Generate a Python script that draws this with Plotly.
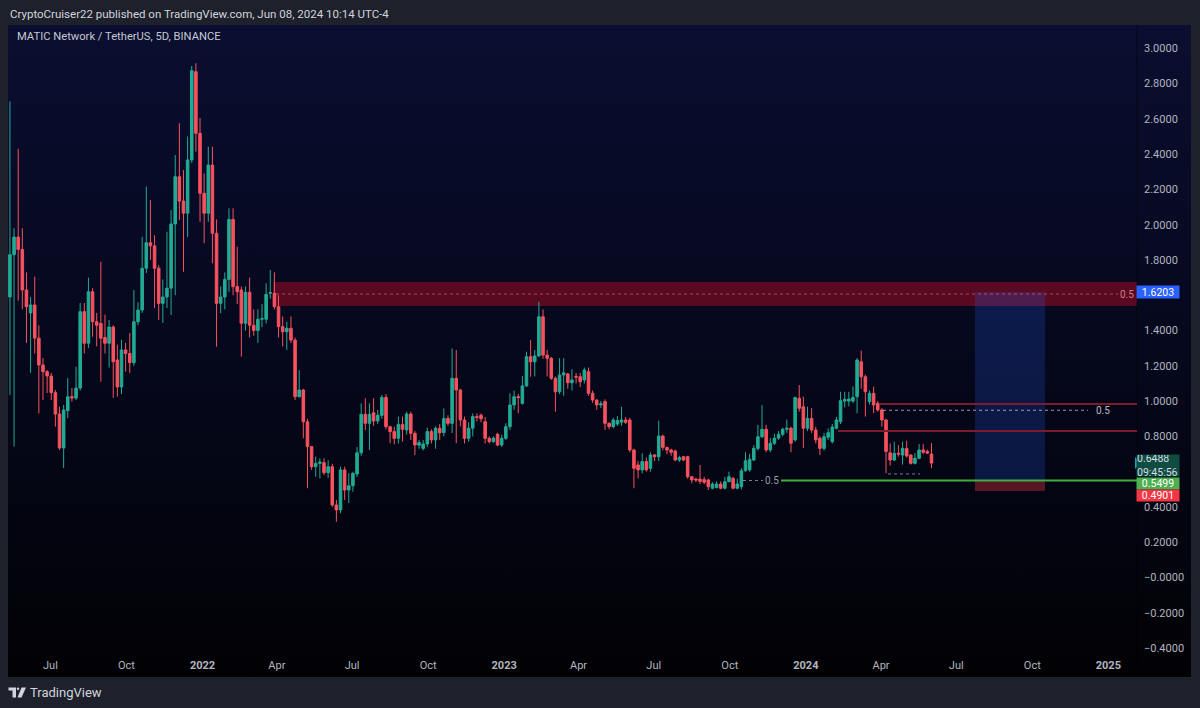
import base64
import pandas as pd
import plotly.graph_objects as go

# ---------------- data ----------------
opens = [1.59, 1.83, 1.93, 1.86, 1.63, 1.50, 1.545, 1.357, 1.205, 1.167,
         1.142, 1.048, 0.927, 0.734, 0.946, 1.025, 1.017, 1.074, 1.507, 1.328,
         1.62, 1.45, 1.44, 1.36, 1.328, 1.42, 1.233, 1.08, 1.29, 1.27,
         1.218, 1.45, 1.516, 1.753, 1.898, 1.88, 1.753, 1.554, 1.59, 1.64,
         2.004, 2.272, 2.134, 2.065, 2.367, 2.867, 2.518, 2.178, 2.065, 2.338,
         1.951, 1.554, 1.59, 1.69, 2.03, 1.649, 1.63, 1.441, 1.617, 1.43,
         1.40, 1.464, 1.464, 1.611, 1.611, 1.535, 1.422, 1.393, 1.413, 1.346,
         1.025, 1.063, 0.883, 0.742, 0.628, 0.647, 0.651, 0.594, 0.628, 0.411,
         0.383, 0.61, 0.496, 0.52, 0.587, 0.707, 0.925, 0.874, 0.934, 0.887,
         0.919, 1.021, 0.855, 0.827, 0.789, 0.868, 0.836, 0.927, 0.817, 0.75,
         0.732, 0.757, 0.827, 0.78, 0.846, 0.821, 0.902, 0.874, 1.129, 1.063,
         0.893, 0.789, 0.846, 0.912, 0.92, 0.883, 0.789, 0.77, 0.812, 0.751,
         0.789, 0.855, 0.978, 1.025, 0.987, 1.086, 1.252, 1.223, 1.256, 1.478,
         1.261, 1.243, 1.129, 1.053, 1.148, 1.154, 1.104, 1.14, 1.138, 1.12,
         1.167, 1.044, 1.006, 0.978, 0.997, 0.874, 0.855, 0.87, 0.88, 0.893,
         0.893, 0.723, 0.638, 0.61, 0.657, 0.619, 0.695, 0.685, 0.802, 0.738,
         0.723, 0.717, 0.666, 0.685, 0.685, 0.571, 0.558, 0.558, 0.555, 0.553,
         0.506, 0.51, 0.53, 0.506, 0.543, 0.562, 0.506, 0.515, 0.605, 0.61,
         0.666, 0.732, 0.798, 0.84, 0.723, 0.761, 0.79, 0.812, 0.84, 0.846,
         0.78, 1.016, 0.968, 0.846, 0.902, 0.836, 0.789, 0.732, 0.795, 0.77,
         0.846, 0.883, 1.0, 1.0, 1.0, 1.025, 1.223, 1.138, 0.997, 1.044,
         0.987, 0.95, 0.893, 0.707, 0.666, 0.704, 0.694, 0.732, 0.694, 0.647,
         0.676, 0.723, 0.715, 0.70]
highs = [2.70, 1.98, 2.43, 1.98, 1.73, 1.59, 1.705, 1.43, 1.244, 1.176,
         1.16, 1.063, 0.968, 0.978, 1.13, 1.074, 1.195, 1.556, 1.556, 1.70,
         1.64, 1.50, 1.79, 1.49, 1.46, 1.43, 1.32, 1.347, 1.33, 1.386,
         1.63, 1.56, 1.932, 2.215, 2.14, 1.94, 1.77, 1.69, 1.96, 2.083,
         2.395, 2.575, 2.31, 2.50, 2.90, 2.915, 2.605, 2.29, 2.442, 2.442,
         2.03, 1.65, 1.73, 2.093, 2.093, 1.875, 1.65, 1.65, 1.70, 1.52,
         1.52, 1.55, 1.668, 1.743, 1.73, 1.60, 1.48, 1.45, 1.48, 1.36,
         1.176, 1.07, 0.90, 0.745, 0.685, 0.675, 0.676, 0.665, 0.645, 0.44,
         0.628, 0.628, 0.59, 0.60, 0.74, 0.987, 1.016, 0.987, 1.016, 0.95,
         1.035, 1.04, 0.86, 0.855, 0.912, 0.912, 0.94, 0.94, 0.83, 0.78,
         0.78, 0.85, 0.84, 0.857, 0.87, 0.959, 0.92, 1.299, 1.29, 1.07,
         0.912, 0.88, 0.93, 0.93, 0.93, 0.91, 0.80, 0.80, 0.82, 0.81,
         0.875, 1.044, 1.06, 1.04, 1.142, 1.28, 1.346, 1.29, 1.563, 1.52,
         1.29, 1.25, 1.14, 1.243, 1.243, 1.16, 1.18, 1.16, 1.16, 1.19,
         1.19, 1.06, 1.01, 1.00, 1.01, 0.88, 0.905, 0.915, 0.968, 0.91,
         0.905, 0.73, 0.66, 0.704, 0.68, 0.71, 0.70, 0.889, 0.81, 0.74,
         0.73, 0.725, 0.69, 0.69, 0.69, 0.575, 0.565, 0.638, 0.57, 0.56,
         0.54, 0.545, 0.545, 0.57, 0.60, 0.57, 0.56, 0.62, 0.71, 0.70,
         0.75, 0.865, 0.978, 0.865, 0.79, 0.815, 0.83, 0.85, 0.895, 0.855,
         1.025, 1.091, 1.025, 0.968, 0.96, 0.855, 0.80, 0.82, 0.845, 0.87,
         0.91, 1.053, 1.053, 1.053, 1.082, 1.243, 1.286, 1.15, 1.06, 1.082,
         1.0, 0.96, 0.90, 0.76, 0.77, 0.75, 0.77, 0.775, 0.70, 0.705,
         0.757, 0.757, 0.725, 0.762]
lows = [1.035, 0.742, 1.57, 1.52, 1.33, 1.16, 1.27, 0.93, 1.006, 1.046,
        1.006, 0.855, 0.723, 0.62, 0.904, 0.997, 1.006, 1.06, 1.27, 1.30,
        1.365, 1.31, 1.11, 1.27, 1.19, 1.018, 1.025, 1.04, 1.167, 1.16,
        1.20, 1.43, 1.50, 1.726, 1.80, 1.528, 1.46, 1.443, 1.528, 1.488,
        1.60, 2.027, 1.733, 1.93, 2.35, 2.414, 2.017, 1.895, 2.017, 1.781,
        1.308, 1.498, 1.52, 1.62, 1.60, 1.55, 1.252, 1.40, 1.36, 1.37,
        1.33, 1.42, 1.44, 1.58, 1.52, 1.36, 1.31, 1.29, 1.33, 1.006,
        1.02, 0.789, 0.506, 0.61, 0.571, 0.562, 0.58, 0.565, 0.401, 0.316,
        0.364, 0.439, 0.422, 0.486, 0.57, 0.69, 0.836, 0.723, 0.86, 0.87,
        0.90, 0.84, 0.761, 0.755, 0.76, 0.77, 0.81, 0.78, 0.694, 0.73,
        0.72, 0.74, 0.76, 0.73, 0.78, 0.80, 0.86, 0.819, 0.761, 0.857,
        0.76, 0.77, 0.80, 0.885, 0.88, 0.76, 0.76, 0.765, 0.745, 0.74,
        0.78, 0.836, 0.95, 0.931, 0.98, 1.08, 1.138, 1.14, 1.25, 1.24,
        1.14, 1.12, 0.94, 1.04, 1.03, 1.07, 1.06, 1.10, 1.08, 1.10,
        1.03, 0.99, 0.95, 0.96, 0.836, 0.84, 0.845, 0.86, 0.86, 0.87,
        0.71, 0.506, 0.562, 0.59, 0.60, 0.60, 0.66, 0.66, 0.72, 0.70,
        0.69, 0.66, 0.655, 0.66, 0.56, 0.534, 0.54, 0.53, 0.53, 0.496,
        0.50, 0.505, 0.50, 0.50, 0.54, 0.50, 0.50, 0.50, 0.60, 0.60,
        0.66, 0.72, 0.79, 0.71, 0.71, 0.75, 0.78, 0.80, 0.82, 0.71,
        0.77, 0.94, 0.734, 0.83, 0.82, 0.76, 0.694, 0.72, 0.78, 0.76,
        0.84, 0.87, 0.965, 0.97, 0.99, 0.931, 1.07, 0.912, 0.98, 0.931,
        0.94, 0.855, 0.591, 0.634, 0.66, 0.685, 0.64, 0.68, 0.64, 0.64,
        0.67, 0.70, 0.70, 0.619]
closes = [1.83, 1.93, 1.86, 1.63, 1.535, 1.545, 1.357, 1.205, 1.167, 1.142,
          1.048, 0.927, 0.734, 0.95, 1.025, 1.018, 1.074, 1.507, 1.328, 1.62,
          1.45, 1.43, 1.357, 1.328, 1.42, 1.223, 1.08, 1.29, 1.27, 1.218,
          1.45, 1.516, 1.753, 1.898, 1.88, 1.753, 1.554, 1.59, 1.64, 2.004,
          2.272, 2.134, 2.065, 2.367, 2.873, 2.518, 2.178, 2.065, 2.338, 1.951,
          1.554, 1.59, 1.69, 2.03, 1.649, 1.62, 1.441, 1.617, 1.43, 1.40,
          1.464, 1.468, 1.605, 1.615, 1.535, 1.422, 1.393, 1.413, 1.346, 1.025,
          1.063, 0.883, 0.742, 0.628, 0.647, 0.655, 0.594, 0.628, 0.411, 0.383,
          0.61, 0.496, 0.52, 0.59, 0.707, 0.925, 0.874, 0.925, 0.887, 0.92,
          1.021, 0.855, 0.827, 0.789, 0.868, 0.84, 0.927, 0.817, 0.751, 0.765,
          0.757, 0.827, 0.78, 0.846, 0.82, 0.902, 0.874, 1.129, 1.063, 0.893,
          0.789, 0.846, 0.912, 0.908, 0.90, 0.789, 0.77, 0.79, 0.751, 0.789,
          0.855, 0.978, 1.025, 1.02, 1.086, 1.252, 1.223, 1.256, 1.478, 1.261,
          1.243, 1.129, 1.053, 1.148, 1.16, 1.104, 1.12, 1.136, 1.11, 1.176,
          1.044, 1.006, 0.978, 0.985, 0.874, 0.855, 0.893, 0.89, 0.893, 0.88,
          0.723, 0.619, 0.61, 0.657, 0.61, 0.695, 0.685, 0.802, 0.738, 0.723,
          0.71, 0.666, 0.68, 0.666, 0.571, 0.553, 0.553, 0.545, 0.54, 0.515,
          0.53, 0.53, 0.506, 0.543, 0.571, 0.506, 0.53, 0.605, 0.662, 0.67,
          0.732, 0.798, 0.84, 0.723, 0.761, 0.79, 0.812, 0.84, 0.846, 0.761,
          1.02, 0.959, 0.846, 0.902, 0.836, 0.78, 0.732, 0.798, 0.821, 0.853,
          0.893, 1.002, 1.01, 1.012, 1.02, 1.233, 1.138, 1.053, 1.044, 0.978,
          0.95, 0.893, 0.714, 0.666, 0.704, 0.70, 0.732, 0.689, 0.647, 0.676,
          0.723, 0.71, 0.705, 0.6488]

last_bar_date = "2024-06-01"
bar_days = 5
dates = pd.date_range(end=last_bar_date, periods=len(closes), freq=f"{bar_days}D")

# 1.6000 and 0.6000 are hidden behind price tags in the original
price_ticks = [3.0, 2.8, 2.6, 2.4, 2.2, 2.0, 1.8, 1.4, 1.2, 1.0, 0.8,
               0.4, 0.2, 0.0, -0.2, -0.4]
price_tick_text = ["3.0000", "2.8000", "2.6000", "2.4000", "2.2000", "2.0000",
                   "1.8000", "1.4000", "1.2000", "1.0000", "0.8000",
                   "0.4000", "0.2000", "\u22120.0000", "\u22120.2000", "\u22120.4000"]
time_ticks = ["2021-07-01", "2021-10-01", "2022-01-01", "2022-04-01", "2022-07-01",
              "2022-10-01", "2023-01-01", "2023-04-01", "2023-07-01", "2023-10-01",
              "2024-01-01", "2024-04-01", "2024-07-01", "2024-10-01", "2025-01-01"]
time_tick_text = ["Jul", "Oct", "<b>2022</b>", "Apr", "Jul", "Oct", "<b>2023</b>",
                  "Apr", "Jul", "Oct", "<b>2024</b>", "Apr", "Jul", "Oct", "<b>2025</b>"]

zone_low, zone_high, zone_mid = 1.539, 1.675, 1.607
target_price = 1.6203
entry_price = 0.5499
stop_price = 0.4901
last_price = 0.6488
countdown = "09:45:56"
red_line_upper = 0.983
red_line_lower = 0.830
fib_mid = 0.948
recent_low = 0.587

# ---------------- geometry / styling ----------------
W, H = 1200, 708
PL, PR, PT, PB = 8, 1137, 25, 657          # plot area in pixels
Y0_PX, PX_PER_UNIT = 577.5, 176.4            # price scale
X2022_PX, PX_PER_DAY = 202.5, 0.8265         # time scale


def price_at(py):
    return (Y0_PX - py) / PX_PER_UNIT


def date_at(px):
    return pd.Timestamp("2022-01-01") + pd.Timedelta(days=(px - X2022_PX) / PX_PER_DAY)


def pxx(px):
    return (px - PL) / (PR - PL)


def pxy(py):
    return (PB - py) / (PB - PT)


UP = "#22ab94"
DOWN = "#f7525f"
FONT = "Roboto, 'Liberation Sans', sans-serif"
TXT = "#b2b5be"

fig = go.Figure()
fig.add_trace(go.Candlestick(
    x=dates, open=opens, high=highs, low=lows, close=closes,
    increasing=dict(line=dict(color=UP, width=1), fillcolor=UP),
    decreasing=dict(line=dict(color=DOWN, width=1), fillcolor=DOWN),
    whiskerwidth=0, hoverinfo="skip", showlegend=False,
))

# background gradient of the chart panel
svg = ('<svg xmlns="http://www.w3.org/2000/svg" width="10" height="100" '
       'preserveAspectRatio="none"><defs><linearGradient id="g" x1="0" y1="0" '
       'x2="0" y2="1"><stop offset="0" stop-color="#0a0e30"/>'
       '<stop offset="0.55" stop-color="#05071a"/>'
       '<stop offset="1" stop-color="#020205"/></linearGradient></defs>'
       '<rect width="10" height="100" fill="url(#g)"/></svg>')
src = "data:image/svg+xml;base64," + base64.b64encode(svg.encode()).decode()
fig.add_layout_image(dict(source=src, xref="paper", yref="paper",
                          x=pxx(8), y=pxy(25), sizex=pxx(1191) - pxx(8),
                          sizey=pxy(25) - pxy(677), xanchor="left", yanchor="top",
                          sizing="stretch", layer="below"))

shapes = []
# separator between chart and price scale
shapes.append(dict(type="line", xref="paper", yref="paper", x0=1, x1=1,
                   y0=pxy(25), y1=pxy(677), line=dict(color="rgba(0,0,0,0.5)", width=1)))
# resistance zone
shapes.append(dict(type="rect", xref="x", yref="y", x0=date_at(273), x1=date_at(1137),
                   y0=zone_low, y1=zone_high, fillcolor="rgba(140,12,35,0.62)",
                   line=dict(width=0), layer="below"))
shapes.append(dict(type="line", xref="x", yref="y", x0=date_at(276), x1=date_at(1118),
                   y0=zone_mid, y1=zone_mid,
                   line=dict(color="rgba(235,130,140,0.55)", width=1, dash="dot")))
# long position box
shapes.append(dict(type="rect", xref="x", yref="y", x0=date_at(975), x1=date_at(1045),
                   y0=entry_price, y1=target_price, fillcolor="rgba(41,98,255,0.2)",
                   line=dict(width=0), layer="below"))
shapes.append(dict(type="rect", xref="x", yref="y", x0=date_at(975), x1=date_at(1045),
                   y0=stop_price, y1=entry_price, fillcolor="rgba(242,54,69,0.35)",
                   line=dict(width=0), layer="below"))
# red horizontal lines
shapes.append(dict(type="line", xref="x", yref="y", x0=date_at(880), x1=date_at(1137),
                   y0=red_line_upper, y1=red_line_upper, line=dict(color="#7d1a2b", width=2)))
shapes.append(dict(type="line", xref="x", yref="y", x0=date_at(838), x1=date_at(1137),
                   y0=red_line_lower, y1=red_line_lower, line=dict(color="#7d1a2b", width=2)))
# dotted fib mid lines
shapes.append(dict(type="line", xref="x", yref="y", x0=date_at(883), x1=date_at(1088),
                   y0=fib_mid, y1=fib_mid,
                   line=dict(color="rgba(200,203,212,0.75)", width=1, dash="dot")))
shapes.append(dict(type="line", xref="x", yref="y", x0=date_at(888), x1=date_at(920),
                   y0=recent_low, y1=recent_low,
                   line=dict(color="rgba(200,203,212,0.6)", width=1, dash="dot")))
# green support line
shapes.append(dict(type="line", xref="x", yref="y", x0=date_at(743), x1=date_at(763),
                   y0=entry_price, y1=entry_price,
                   line=dict(color="rgba(200,203,212,0.6)", width=1, dash="dot")))
shapes.append(dict(type="line", xref="x", yref="y", x0=date_at(781), x1=date_at(1137),
                   y0=entry_price, y1=entry_price, line=dict(color="#3fae45", width=2)))
# last price arrow on the scale
ay = pxy(Y0_PX - last_price * PX_PER_UNIT)
shapes.append(dict(type="path", xref="paper", yref="paper",
                   path=f"M {pxx(1135)} {ay + 6/632} L {pxx(1141)} {ay} L {pxx(1135)} {ay - 6/632} Z",
                   fillcolor="#22a3b0", line=dict(width=0)))


# TradingView logo
def P(px, py):
    return f"{pxx(px)} {pxy(py)}"


shapes.append(dict(type="path", xref="paper", yref="paper",
                   path=f"M {P(8.5,687.5)} L {P(16,687.5)} L {P(16,697.5)} L {P(12.5,697.5)} "
                        f"L {P(12.5,690.5)} L {P(8.5,690.5)} Z",
                   fillcolor="#d1d4dc", line=dict(width=0)))
shapes.append(dict(type="circle", xref="paper", yref="paper",
                   x0=pxx(16.8), x1=pxx(19.2), y0=pxy(687.6), y1=pxy(690.0),
                   fillcolor="#d1d4dc", line=dict(width=0)))
shapes.append(dict(type="path", xref="paper", yref="paper",
                   path=f"M {P(21.5,687.5)} L {P(26,687.5)} L {P(21.5,697.5)} L {P(17.5,697.5)} Z",
                   fillcolor="#d1d4dc", line=dict(width=0)))

annotations = []
annotations.append(dict(xref="paper", yref="paper", x=pxx(8), y=pxy(14), xanchor="left",
                        yanchor="middle", showarrow=False,
                        text="CryptoCruiser22 published on TradingView.com, Jun 08, 2024 10:14 UTC-4",
                        font=dict(family=FONT, size=11.5, color="#d1d4dc")))
annotations.append(dict(xref="paper", yref="paper", x=pxx(15), y=pxy(37), xanchor="left",
                        yanchor="middle", showarrow=False,
                        text="MATIC Network / TetherUS, 5D, BINANCE",
                        font=dict(family=FONT, size=11.2, color="#c5c8d0")))
annotations.append(dict(xref="paper", yref="paper", x=pxx(28), y=pxy(692), xanchor="left",
                        yanchor="middle", showarrow=False, text="TradingView",
                        font=dict(family=FONT, size=13, color="#d1d4dc")))
# level labels
annotations.append(dict(xref="x", yref="y", x=date_at(1127), y=zone_mid, showarrow=False,
                        text="0.5", font=dict(family=FONT, size=10, color="#d97a86")))
annotations.append(dict(xref="x", yref="y", x=date_at(1103), y=fib_mid, showarrow=False,
                        text="0.5", font=dict(family=FONT, size=10, color="#b8bbc3")))
annotations.append(dict(xref="x", yref="y", x=date_at(772), y=entry_price, showarrow=False,
                        text="0.5", font=dict(family=FONT, size=10, color="#9a9ea8")))


# price tags on the scale
def tag(text, py, bg, fg="#ffffff", h=12, align="center"):
    annotations.append(dict(xref="paper", yref="paper", x=pxx(1158), y=pxy(py),
                            xanchor="center", yanchor="middle", showarrow=False,
                            text=text, width=42, height=h, bgcolor=bg, borderpad=0,
                            align=align,
                            font=dict(family=FONT, size=10.5, color=fg)))


tag(f"{target_price:.4f}", Y0_PX - target_price * PX_PER_UNIT, "#2962ff")
tag(f"{last_price:.4f}<br>{countdown}", 465.5, "#0f4d42", "#d8dbe2", h=21, align="left")
tag(f"{entry_price:.4f}", 483.5, "#4caf50", h=11)
tag(f"{stop_price:.4f}", 495, "#f23645", h=11)

fig.update_layout(
    width=W, height=H,
    margin=dict(l=PL, r=W - PR, t=PT, b=H - PB, pad=0),
    paper_bgcolor="#1e212b", plot_bgcolor="rgba(0,0,0,0)",
    showlegend=False, shapes=shapes, annotations=annotations,
    font=dict(family=FONT), boxgap=0.12,
    xaxis=dict(type="date", range=[date_at(PL), date_at(PR)], rangeslider=dict(visible=False),
               showgrid=False, zeroline=False, showline=False, ticks="",
               tickvals=time_ticks, ticktext=time_tick_text,
               tickfont=dict(family=FONT, size=11, color=TXT)),
    yaxis=dict(side="right", range=[price_at(PB), price_at(PT)], showgrid=False,
               zeroline=False, showline=False, ticks="", tickvals=price_ticks,
               ticktext=price_tick_text, ticklabelstandoff=6,
               tickfont=dict(family=FONT, size=11, color=TXT)),
)

fig.write_html("out.html", include_plotlyjs=True, full_html=True,
               config={"displayModeBar": False},
               post_script="document.body.style.margin='0';document.body.style.overflow='hidden';")
